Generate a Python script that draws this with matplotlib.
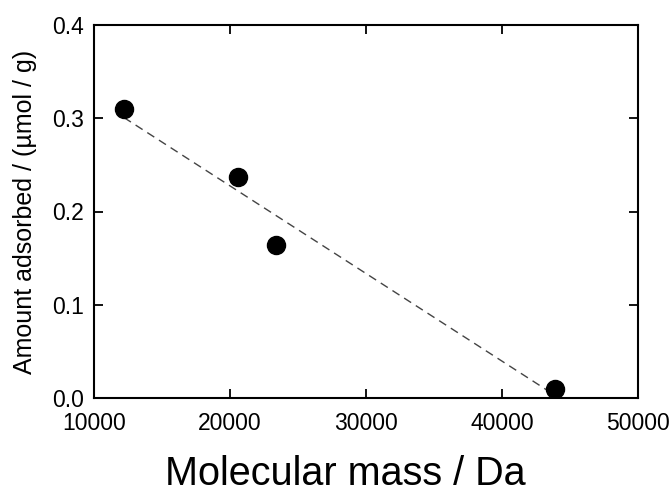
import numpy as np
import matplotlib
matplotlib.use("Agg")
import matplotlib.pyplot as plt

# data
mass = [12200, 20600, 23400, 43900]
adsorbed = [0.310, 0.237, 0.164, 0.010]
x_ticks = [10000, 20000, 30000, 40000, 50000]
y_ticks = [0.0, 0.1, 0.2, 0.3, 0.4]

plt.rcParams["font.family"] = ["Liberation Sans", "DejaVu Sans"]

fig = plt.figure(figsize=(6.69, 4.93), dpi=100)
ax = fig.add_axes([94 / 669, 95 / 493, 544 / 669, 373 / 493])

# linear fit as dashed line
k, b = np.polyfit(mass, adsorbed, 1)
xf = np.array([mass[0], mass[-1]])
ax.plot(xf, k * xf + b, ls=(0, (6, 4)), color="#444444", lw=1.0, zorder=2)

ax.plot(mass, adsorbed, "o", color="black", ms=13, zorder=3)

ax.set_xlim(10000, 50000)
ax.set_ylim(0, 0.4)
ax.set_xticks(x_ticks)
ax.set_yticks(y_ticks)
ax.set_xticklabels([str(t) for t in x_ticks])
ax.set_yticklabels(["%.1f" % t for t in y_ticks])
ax.tick_params(direction="in", length=6.5, width=1.3, top=True, right=True,
               labelsize=16.5)
ax.tick_params(axis="x", pad=10)
ax.tick_params(axis="y", pad=7.5)
for s in ax.spines.values():
    s.set_linewidth(1.5)

ax.set_ylabel("Amount adsorbed / (\u00b5mol / g)", fontsize=18)
ax.yaxis.set_label_coords(-0.105, 0.5)
fig.text(345 / 669, 1 - 474 / 493, "Molecular mass / Da", fontsize=28.5,
         ha="center", va="center")

fig.savefig("out.png", dpi=100)
